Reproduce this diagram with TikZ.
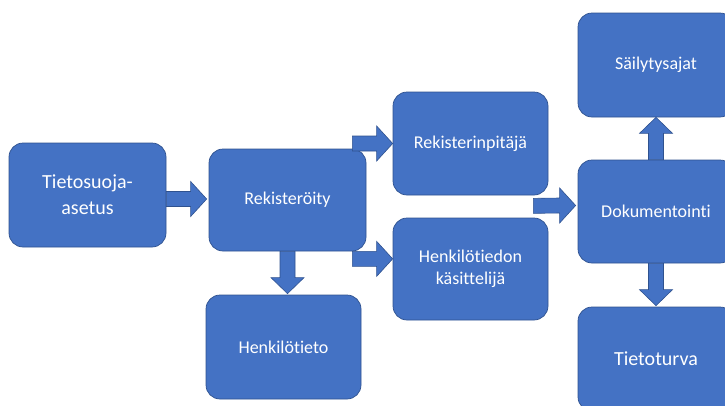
\documentclass[tikz,border=0pt]{standalone}
\usepackage{fontspec}
\setmainfont{Carlito}[Ligatures={NoCommon}]
\usetikzlibrary{calc}
\definecolor{boxblue}{HTML}{4472C4}
\definecolor{edgeblue}{HTML}{2F528F}
\tikzset{
  box/.style={rectangle, rounded corners=14pt, fill=boxblue, draw=edgeblue, line width=0.7pt,
    text=white, align=center, inner sep=2pt, font=\fontsize{18}{22}\selectfont},
  bigtext/.style={font=\fontsize{20}{26}\selectfont},
  blk/.style={fill=boxblue, draw=edgeblue, line width=0.6pt},
  rarrow/.style={blk, to path={($(\tikztostart)+(0,-7.5)$) -- ($(\tikztotarget)+(-16,-7.5)$) -- ($(\tikztotarget)+(-16,-17.5)$) -- (\tikztotarget) -- ($(\tikztotarget)+(-16,17.5)$) -- ($(\tikztotarget)+(-16,7.5)$) -- ($(\tikztostart)+(0,7.5)$) -- cycle}},
  darrow/.style={blk, to path={($(\tikztostart)+(-7.5,0)$) -- ($(\tikztotarget)+(-7.5,-16)$) -- ($(\tikztotarget)+(-16.5,-16)$) -- (\tikztotarget) -- ($(\tikztotarget)+(16.5,-16)$) -- ($(\tikztotarget)+(7.5,-16)$) -- ($(\tikztostart)+(7.5,0)$) -- cycle}},
  uarrow/.style={blk, to path={($(\tikztostart)+(-7.5,0)$) -- ($(\tikztotarget)+(-7.5,16)$) -- ($(\tikztotarget)+(-16.5,16)$) -- (\tikztotarget) -- ($(\tikztotarget)+(16.5,16)$) -- ($(\tikztotarget)+(7.5,16)$) -- ($(\tikztostart)+(7.5,0)$) -- cycle}}
}
\begin{document}
\begin{tikzpicture}[x=1pt,y=-1pt]
\useasboundingbox (0,0) rectangle (725,405);
\clip (0,0) rectangle (725,405);
% boxes
\node[box, bigtext, minimum width=157pt, minimum height=104pt] (b1) at (87.5,195) {Tietosuoja-\\asetus};
\node[box, minimum width=157pt, minimum height=102pt] (b2) at (287.5,200) {Rekisteröity};
\node[box, minimum width=155pt, minimum height=103pt] (b3) at (470.5,143.5) {Rekisterinpitäjä};
\node[box, minimum width=155pt, minimum height=102pt] (b4) at (470.5,269) {Henkilötiedon\\käsittelijä};
\node[box, minimum width=155pt, minimum height=104pt] (b5) at (283.5,347) {Henkilötieto};
\node[box, minimum width=156pt, minimum height=104pt] (b6) at (656,65) {Säilytysajat};
\node[box, minimum width=156pt, minimum height=103pt] (b7) at (656,211.5) {Dokumentointi};
\node[box, bigtext, minimum width=156pt, minimum height=104pt] (b8) at (656,359) {Tietoturva};
% arrow end points
\coordinate (s1) at ($(b1.east |- b2.west)+(0,-1)$);
\coordinate (t1) at ($(b2.west)+(-2,-1)$);
\coordinate (s2) at ($(b2.east |- b3.west)+(-14,0)$);
\coordinate (t2) at (b3.west);
\coordinate (s3) at ($(b2.south east)+(-14,7.5)$);
\coordinate (t3) at (b4.west |- s3);
\coordinate (s4) at ($(b3.south east)+(-15,10.5)$);
\coordinate (t4) at ($(b7.west)+(-2,-6)$);
\coordinate (s5) at (b2.south);
\coordinate (t5) at ($(b2.south |- b5.north)+(0,-1)$);
\coordinate (s6) at (b7.north);
\coordinate (t6) at (b6.south);
\coordinate (s7) at (b7.south);
\coordinate (t7) at ($(b8.north)+(0,-1)$);
% connectors
\path[rarrow] (s1) to (t1);
\path[rarrow] (s2) to (t2);
\path[rarrow] (s3) to (t3);
\path[rarrow] (s4) to (t4);
\path[darrow] (s5) to (t5);
\path[uarrow] (s6) to (t6);
\path[darrow] (s7) to (t7);
\end{tikzpicture}
\end{document}
